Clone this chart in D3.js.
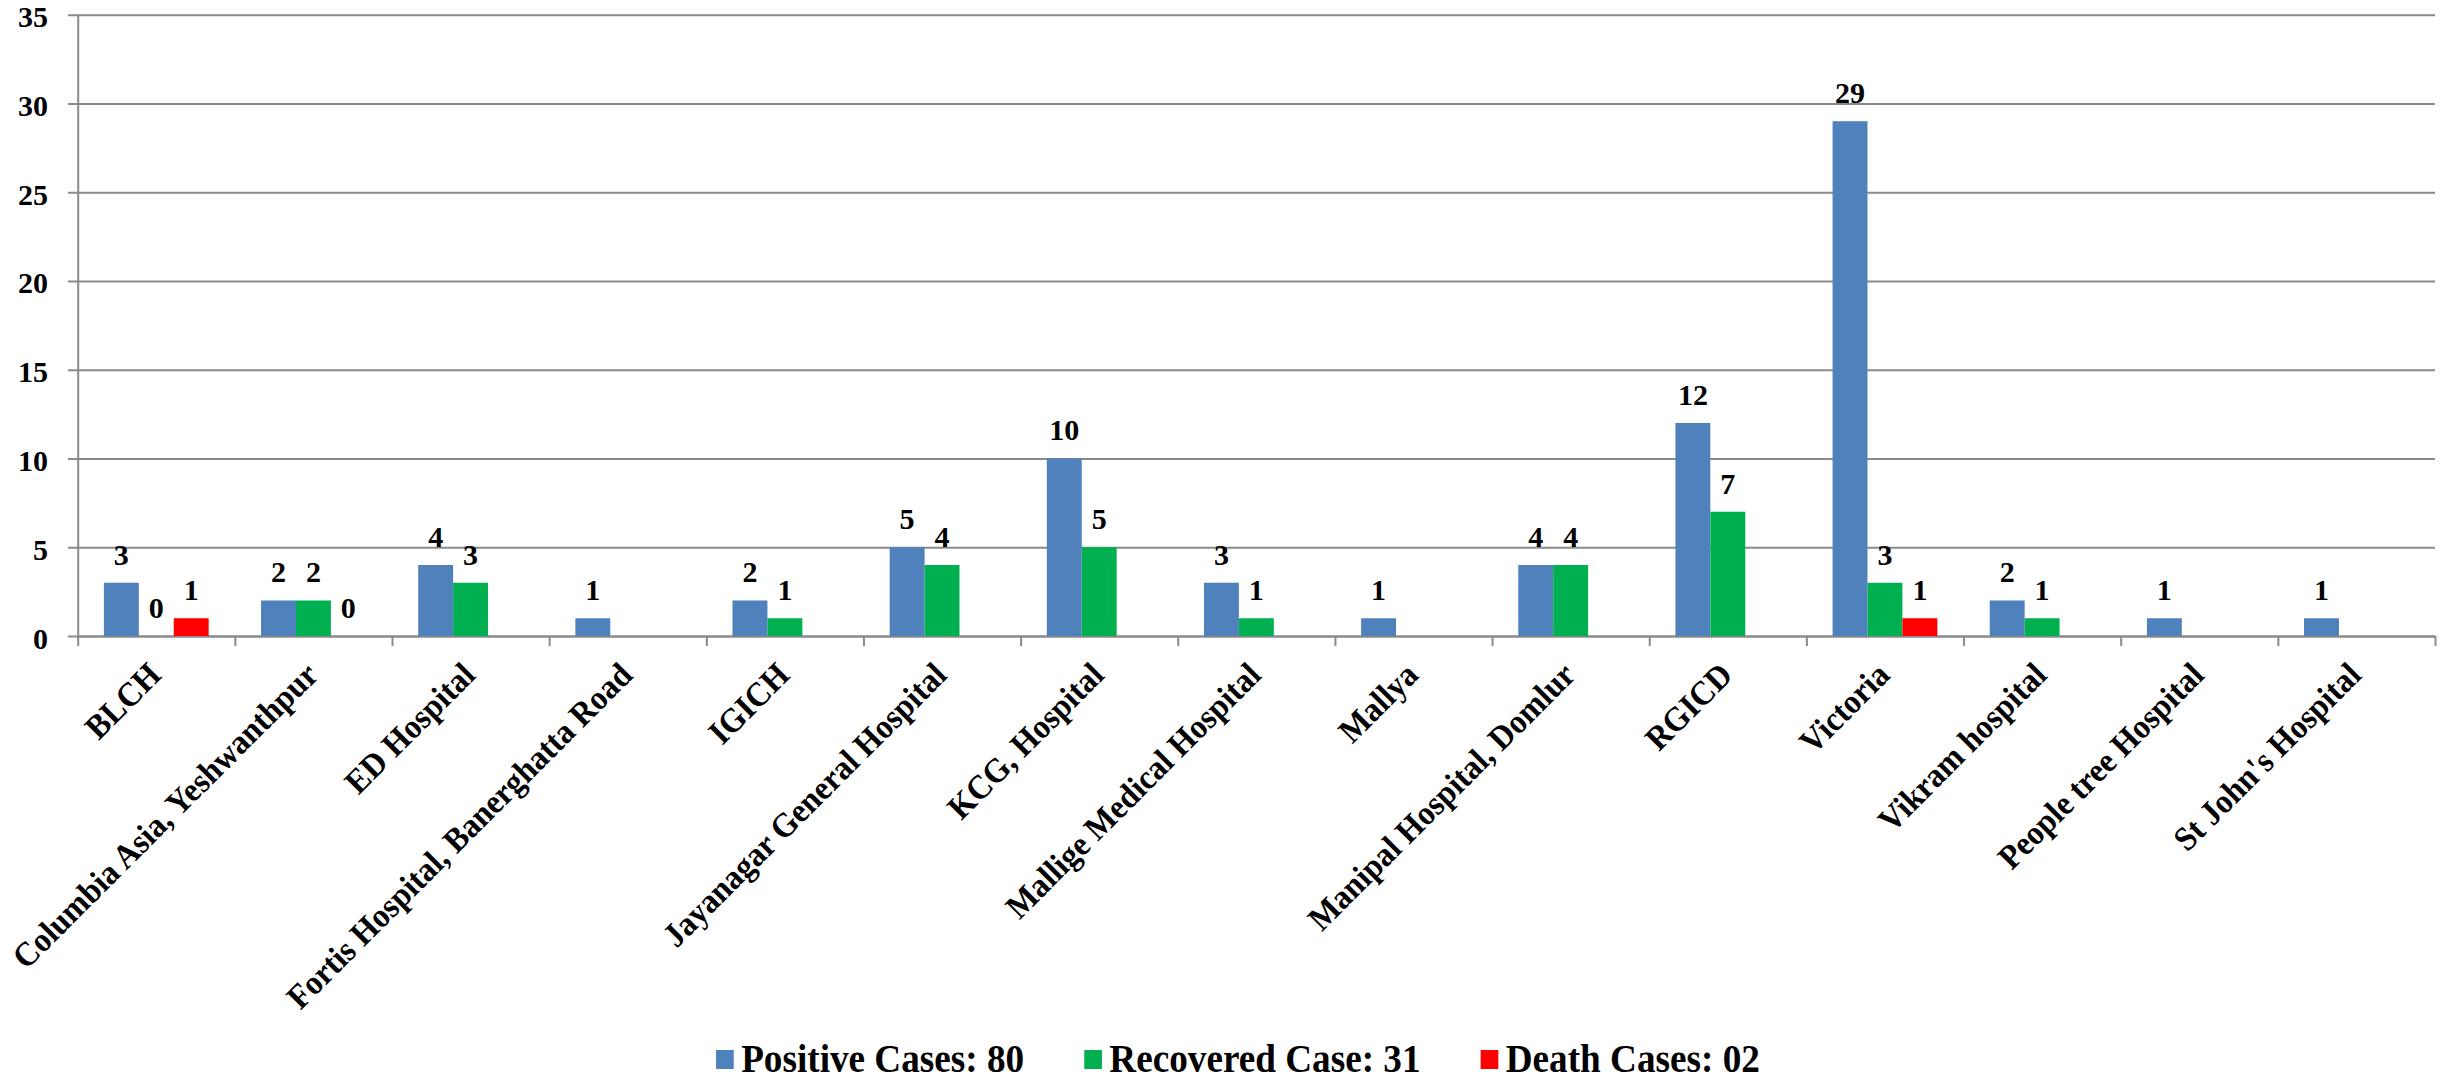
<!DOCTYPE html>
<html><head><meta charset="utf-8">
<script src="https://cdn.jsdelivr.net/npm/d3@7"></script>
<style>
html,body{margin:0;padding:0;background:#fff;}
text{font-family:"Liberation Serif","Times New Roman",serif;font-weight:bold;fill:#000;}
</style></head>
<body>
<svg id="chart" width="2451" height="1081"></svg>
<script>
const categories = ["BLCH","Columbia Asia, Yeshwanthpur","ED Hospital","Fortis Hospital, Banerghatta Road","IGICH","Jayanagar General Hospital","KCG, Hospital","Mallige Medical Hospital","Mallya","Manipal Hospital, Domlur","RGICD","Victoria","Vikram hospital","People tree Hospital","St John's Hospital"];
const positive  = [3, 2, 4, 1, 2, 5, 10, 3, 1, 4, 12, 29, 2, 1, 1];
const recovered = [0, 2, 3, null, 1, 4, 5, 1, null, 4, 7, 3, 1, null, null];
const deaths    = [1, 0, null, null, null, null, null, null, null, null, null, 1, null, null, null];
const seriesNames = ["Positive Cases: 80","Recovered Case: 31","Death Cases: 02"];
const seriesColors = ["#4F81BD","#00B050","#FF0000"];
const yTicks = [0,5,10,15,20,25,30,35];

const series = [positive, recovered, deaths];
const svg = d3.select("#chart");
const L = 77.7, R = 2435, T = 14.7, B = 636;
const gridColor = "#8a8a8a";

const x0 = d3.scaleBand().domain(categories).range([L, R]).padding(0);
const bw = x0.bandwidth();
const gap = bw/3;
const x1 = d3.scaleBand().domain([0,1,2]).range([gap/2, bw-gap/2]).padding(0);
const y = d3.scaleLinear().domain([0,35]).range([B, T]);

// gridlines
const grid = svg.append("g").attr("transform",`translate(${R},0)`)
  .call(d3.axisLeft(y).tickValues(yTicks).tickSize(R-68).tickFormat(""));
grid.select(".domain").remove();
grid.selectAll("line").attr("stroke",gridColor).attr("stroke-width",2);

// y labels
const yl = svg.append("g").attr("transform",`translate(68,0)`)
  .call(d3.axisLeft(y).tickValues(yTicks).tickSize(0).tickPadding(20));
yl.select(".domain").remove();
yl.selectAll("text").attr("font-size",30).attr("dy","0.4em")
  .style("font-family",'"Liberation Serif",serif').style("font-weight","bold");

// y axis line
const ya = svg.append("g").attr("transform",`translate(${L},0)`)
  .call(d3.axisLeft(y).tickValues([]).tickSizeOuter(0));
ya.select(".domain").attr("stroke",gridColor).attr("stroke-width",2);

// x axis with boundary ticks
const xEdge = d3.scaleLinear().domain([0,categories.length]).range([L,R]);
const xa = svg.append("g").attr("transform",`translate(0,${B})`)
  .call(d3.axisBottom(xEdge).tickValues(d3.range(categories.length+1)).tickSize(10).tickSizeOuter(0).tickFormat(""));
xa.select(".domain").attr("stroke",gridColor).attr("stroke-width",2);
xa.selectAll("line").attr("stroke",gridColor).attr("stroke-width",2);

// bars
series.forEach((vals, si) => {
  const g = svg.append("g");
  categories.forEach((c, ci) => {
    const v = vals[ci];
    if (v === null) return;
    const bx = x0(c) + x1(si);
    if (v > 0) {
      g.append("rect").attr("x", bx).attr("y", y(v)).attr("width", x1.bandwidth())
        .attr("height", y(0)-y(v)).attr("fill", seriesColors[si]);
    }
    g.append("text").attr("x", bx + x1.bandwidth()/2).attr("y", y(v) - 18)
      .attr("text-anchor","middle").attr("font-size",30).text(v);
  });
});

// x labels
categories.forEach(c => {
  const cx = x0(c) + bw/2;
  svg.append("text").attr("transform",`translate(${cx+6.5},${B+41}) rotate(-45) scale(0.94,1)`)
    .attr("text-anchor","end").attr("font-size",34).text(c);
});

// legend
const lg = svg.append("g");
let pos = 0;
const items = [];
seriesNames.forEach((n,i) => {
  const it = lg.append("g");
  it.append("rect").attr("x",0).attr("y",-22).attr("width",19).attr("height",19).attr("fill",seriesColors[i]);
  const t = it.append("text").attr("x",27).attr("y",0).attr("font-size",40).text(n);
  items.push({g:it, w: 27 + t.node().getComputedTextLength()});
});
const sx = 0.93;
items.forEach((it,i) => {
  it.g.attr("transform",`translate(${pos},0)`);
  pos += it.w + (i < items.length-1 ? 60/sx : 0);
});
const totalW = pos*sx;
lg.attr("transform",`translate(${1238 - totalW/2},1072) scale(${sx},1)`);
</script>
</body></html>
